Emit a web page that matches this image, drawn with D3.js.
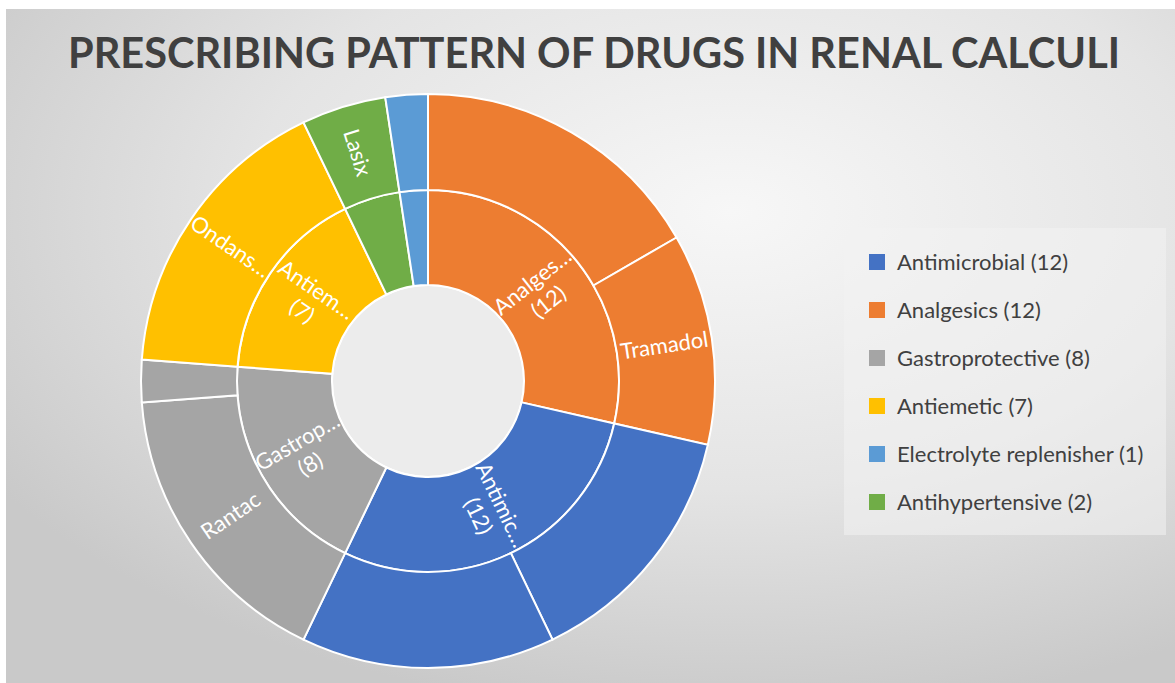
<!DOCTYPE html>
<html>
<head>
<meta charset="utf-8">
<script src="https://cdn.jsdelivr.net/npm/d3@7"></script>
<style>
  html, body { margin: 0; padding: 0; background: #ffffff; }
  svg { display: block; }
</style>
</head>
<body>
<svg id="chart" width="1175" height="683"></svg>
<script>
// ---- data ----
const categories = ["Analgesics", "Antimicrobial", "Gastroprotective", "Antiemetic", "Antihypertensive", "Electrolyte replenisher"];
const categoryValues = [12, 12, 8, 7, 2, 1];
const categoryColors = ["#ED7D31", "#4472C4", "#A5A5A5", "#FFC000", "#70AD47", "#5B9BD5"];
const innerLabels = ["Analges…", "Antimic…", "Gastrop…", "Antiem…", "", ""];

const drugParents = ["Analgesics", "Analgesics", "Antimicrobial", "Antimicrobial", "Gastroprotective", "Gastroprotective", "Antiemetic", "Antihypertensive", "Electrolyte replenisher"];
const drugNames   = ["", "Tramadol", "", "", "Rantac", "", "Ondansetron", "Lasix", ""];
const drugLabels  = ["", "Tramadol", "", "", "Rantac", "", "Ondans…", "Lasix", ""];
const drugValues  = [7, 5, 6, 6, 7, 1, 7, 2, 1];

const legendOrder = ["Antimicrobial", "Analgesics", "Gastroprotective", "Antiemetic", "Electrolyte replenisher", "Antihypertensive"];

const titleText = "PRESCRIBING PATTERN OF DRUGS IN RENAL CALCULI";

// ---- drawing ----
const svg = d3.select("#chart");
const W = 1175, H = 683;
const defs = svg.append("defs");
const grad = defs.append("radialGradient").attr("id", "bg")
  .attr("cx", "62%").attr("cy", "30%").attr("r", "75%");
grad.append("stop").attr("offset", "0%").attr("stop-color", "#f7f7f7");
grad.append("stop").attr("offset", "55%").attr("stop-color", "#e4e4e4");
grad.append("stop").attr("offset", "100%").attr("stop-color", "#c9c9c9");

svg.append("rect").attr("x", 6).attr("y", 9).attr("width", W - 6).attr("height", H - 9)
  .attr("fill", "url(#bg)");

svg.append("text")
  .attr("x", 594).attr("y", 68)
  .attr("text-anchor", "middle")
  .attr("font-family", "Lato, 'Open Sans', sans-serif")
  .attr("font-weight", "bold")
  .attr("font-size", 42)
  .attr("fill", "#404040")
  .attr("textLength", 1052)
  .attr("lengthAdjust", "spacingAndGlyphs")
  .text(titleText);

const cx = 428, cy = 381;
const r0 = 96, r1 = 191, r2 = 287;
const colorOf = d3.scaleOrdinal().domain(categories).range(categoryColors);

const pie = d3.pie().sort(null).value(d => d.value);
const innerData = pie(categories.map((c, i) => ({ name: c, value: categoryValues[i], label: innerLabels[i] })));
const outerData = pie(drugNames.map((n, i) => ({ name: n, parent: drugParents[i], value: drugValues[i], label: drugLabels[i] })));

const innerArc = d3.arc().innerRadius(r0).outerRadius(r1);
const outerArc = d3.arc().innerRadius(r1).outerRadius(r2);

const g = svg.append("g").attr("transform", `translate(${cx},${cy})`);

// hole
g.append("circle").attr("r", r0).attr("fill", "#ececec").attr("stroke", "#ffffff").attr("stroke-width", 2);

g.selectAll("path.inner").data(innerData).enter().append("path")
  .attr("class", "inner")
  .attr("d", innerArc)
  .attr("fill", d => colorOf(d.data.name))
  .attr("stroke", "#ffffff").attr("stroke-width", 2);

g.selectAll("path.outer").data(outerData).enter().append("path")
  .attr("class", "outer")
  .attr("d", outerArc)
  .attr("fill", d => colorOf(d.data.parent))
  .attr("stroke", "#ffffff").attr("stroke-width", 2);

function rot(d) {
  const a = (d.startAngle + d.endAngle) / 2 * 180 / Math.PI;
  return a > 180 ? a - 270 : a - 90;
}

const fontFam = "Lato, 'Open Sans', sans-serif";

// inner labels
innerData.filter(d => d.data.label).forEach(d => {
  const [x, y] = innerArc.centroid(d);
  const t = g.append("text")
    .attr("transform", `translate(${x},${y}) rotate(${rot(d)})`)
    .attr("text-anchor", "middle")
    .attr("font-family", fontFam)
    .attr("font-size", 22)
    .attr("fill", "#ffffff");
  t.append("tspan").attr("x", 0).attr("y", -5).text(d.data.label);
  t.append("tspan").attr("x", 0).attr("y", 21).text(`(${d.data.value})`);
});

// outer labels
outerData.filter(d => d.data.label).forEach(d => {
  const [x, y] = outerArc.centroid(d);
  g.append("text")
    .attr("transform", `translate(${x},${y}) rotate(${rot(d)})`)
    .attr("text-anchor", "middle")
    .attr("dy", "0.35em")
    .attr("font-family", fontFam)
    .attr("font-size", 22)
    .attr("fill", "#ffffff")
    .text(d.data.label);
});

// legend
const lg = svg.append("g");
lg.append("rect").attr("x", 844).attr("y", 228).attr("width", 322).attr("height", 307)
  .attr("fill", "#f2f2f2").attr("fill-opacity", 0.55);

const ly = d3.scalePoint().domain(legendOrder).range([262, 502]);
legendOrder.forEach(name => {
  const i = categories.indexOf(name);
  const y = ly(name);
  lg.append("rect").attr("x", 869).attr("y", y - 8).attr("width", 16).attr("height", 16)
    .attr("fill", categoryColors[i]);
  lg.append("text").attr("x", 897).attr("y", y).attr("dy", "0.36em")
    .attr("font-family", fontFam).attr("font-size", 22).attr("fill", "#404040")
    .text(`${name} (${categoryValues[i]})`);
});
</script>
</body>
</html>
